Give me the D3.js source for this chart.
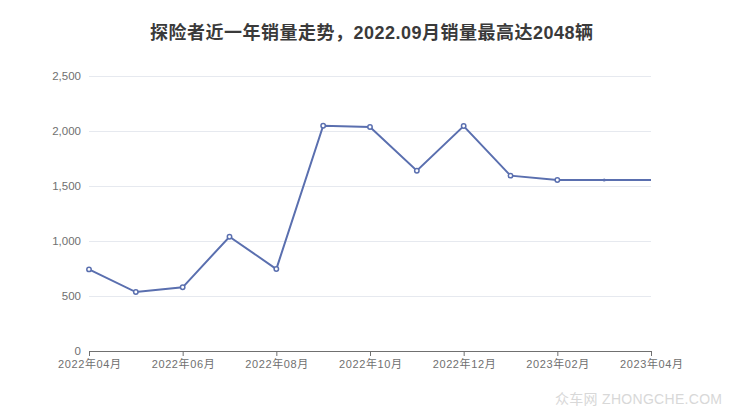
<!DOCTYPE html>
<html><head><meta charset="utf-8">
<script src="https://cdn.jsdelivr.net/npm/d3@7"></script>
<style>body{margin:0;background:#fff}svg{display:block}</style>
</head><body>
<svg id="c" width="740" height="417"></svg>
<script>
const months = ["2022-04","2022-05","2022-06","2022-07","2022-08","2022-09","2022-10","2022-11","2022-12","2023-01","2023-02","2023-03","2023-04"];
const sales = [742, 536, 579, 1039, 745, 2048, 2036, 1639, 2045, 1594, 1555, 1555, 1555];
const yTicks = [0, 500, 1000, 1500, 2000, 2500];
const xTickMonths = ["2022-04","2022-06","2022-08","2022-10","2022-12","2023-02","2023-04"];
const title = "探险者近一年销量走势，2022.09月销量最高达2048辆";

const svg = d3.select("#c");
const font = "'Liberation Sans', 'Noto Sans CJK SC', sans-serif";
const xi = d3.scaleLinear().domain([0, months.length-1]).range([89, 651]);
const y = d3.scaleLinear().domain([0, 2500]).range([351, 76]);

svg.append("text").attr("x", 150).attr("y", 39)
  .attr("textLength", 443).attr("lengthAdjust", "spacing")
  .attr("font-family", font).attr("font-size", 18).attr("font-weight", "bold").attr("fill", "#3a3a3a").text(title);

// grid
svg.append("g").selectAll("line").data(yTicks.filter(d=>d>0)).join("line")
  .attr("x1", 89).attr("x2", 651).attr("y1", d=>y(d)+0.5).attr("y2", d=>y(d)+0.5)
  .attr("stroke", "#E6E9EF").attr("stroke-width", 1);

// y labels
const yAxis = d3.axisLeft(y).tickValues(yTicks).tickFormat(d3.format(",")).tickSize(0).tickPadding(8);
const gy = svg.append("g").attr("transform", "translate(89,0)").call(yAxis);
gy.select(".domain").remove();
gy.selectAll("text").attr("font-family", font).attr("font-size", 11.5).attr("fill", "#707070");

// x axis
const xAxis = d3.axisBottom(xi).tickValues(xTickMonths.map(m=>months.indexOf(m)))
  .tickFormat(i => { const p = months[i].split("-"); return p[0] + "年" + p[1] + "月"; })
  .tickSize(5).tickSizeOuter(0).tickPadding(4);
const gx = svg.append("g").attr("transform", "translate(0,351)").call(xAxis);
gx.select(".domain").attr("stroke", "#707070");
gx.selectAll(".tick line").attr("stroke", "#707070");
gx.selectAll("text").attr("font-family", font).attr("font-size", 11).attr("fill", "#707070")
  .attr("textLength", 63).attr("lengthAdjust", "spacing");

// line
const color = "#5A6FAF";
const line = d3.line().x((d,i)=>xi(i)).y(d=>y(d));
svg.append("path").datum(sales).attr("d", line).attr("fill", "none").attr("stroke", color).attr("stroke-width", 2);

svg.append("g").selectAll("circle").data(sales.slice(0, 11)).join("circle")
  .attr("cx", (d,i)=>xi(i)).attr("cy", d=>y(d)).attr("r", 2.2)
  .attr("fill", "#fff").attr("stroke", color).attr("stroke-width", 1.5);
svg.append("circle").attr("cx", xi(11)).attr("cy", y(sales[11])).attr("r", 1.5).attr("fill", color);

// watermark
svg.append("text").attr("x", 555).attr("y", 404)
  .attr("textLength", 167).attr("lengthAdjust", "spacing")
  .attr("font-family", font).attr("font-size", 14).attr("fill", "#d8d8d8").text("众车网 ZHONGCHE.COM");
</script>
</body></html>
